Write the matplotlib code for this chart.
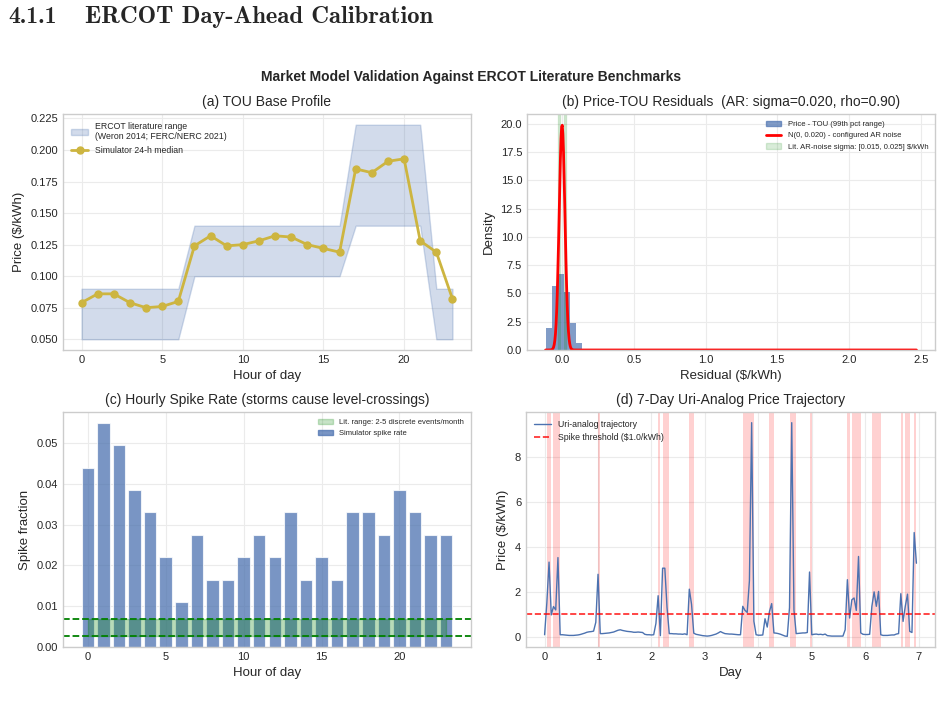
import matplotlib
matplotlib.use("Agg")
import matplotlib.pyplot as plt
import numpy as np
from matplotlib.patches import Patch
from matplotlib.lines import Line2D

# (a) TOU base profile
hours = np.arange(24)
lit_low = [0.05, 0.05, 0.05, 0.05, 0.05, 0.05, 0.05, 0.10, 0.10, 0.10, 0.10, 0.10,
           0.10, 0.10, 0.10, 0.10, 0.10, 0.14, 0.14, 0.14, 0.14, 0.14, 0.05, 0.05]
lit_high = [0.09, 0.09, 0.09, 0.09, 0.09, 0.09, 0.09, 0.14, 0.14, 0.14, 0.14, 0.14,
            0.14, 0.14, 0.14, 0.14, 0.14, 0.22, 0.22, 0.22, 0.22, 0.22, 0.09, 0.09]
sim_median = [0.079, 0.086, 0.086, 0.079, 0.075, 0.076, 0.080, 0.124, 0.132, 0.124, 0.125, 0.128,
              0.132, 0.131, 0.125, 0.122, 0.119, 0.185, 0.182, 0.191, 0.193, 0.128, 0.119, 0.082]

# (b) residual histogram (density per bin)
resid_edges = [-0.110, -0.068, -0.026, 0.016, 0.058, 0.100, 0.142, 0.184]
resid_density = [1.93, 5.63, 6.73, 5.16, 2.40, 0.60, 0.10]
resid_min, resid_max = -0.115, 2.47
ar_sigma = 0.020
lit_sigma = [0.015, 0.025]

# (c) hourly spike fraction
spike_frac = [0.0440, 0.0549, 0.0495, 0.0385, 0.0330, 0.0220, 0.0110, 0.0275, 0.0165, 0.0165, 0.0220, 0.0275,
              0.0220, 0.0330, 0.0165, 0.0220, 0.0165, 0.0330, 0.0330, 0.0275, 0.0385, 0.0330, 0.0275, 0.0275]
lit_spike = [2 / 720, 5 / 720]

# (d) 7-day trajectory, hourly prices ($/kWh)
uri_price = [
    0.10, 1.50, 3.32, 0.98, 1.35, 1.20, 3.52, 0.10, 0.10, 0.09, 0.08, 0.07,
    0.07, 0.07, 0.08, 0.09, 0.11, 0.14, 0.17, 0.21, 0.23, 0.24, 0.26, 0.65,
    2.78, 0.15, 0.15, 0.16, 0.17, 0.18, 0.20, 0.22, 0.26, 0.30, 0.32, 0.29,
    0.27, 0.25, 0.24, 0.23, 0.21, 0.21, 0.22, 0.21, 0.20, 0.12, 0.10, 0.10,
    0.09, 0.10, 0.60, 1.83, 0.06, 3.05, 3.05, 1.30, 0.15, 0.15, 0.14, 0.14,
    0.13, 0.13, 0.12, 0.14, 0.10, 2.12, 1.45, 0.17, 0.12, 0.10, 0.08, 0.06,
    0.05, 0.04, 0.05, 0.07, 0.10, 0.13, 0.18, 0.24, 0.19, 0.15, 0.14, 0.13,
    0.13, 0.12, 0.11, 0.10, 0.10, 1.36, 1.18, 1.09, 2.50, 9.50, 0.70, 0.10,
    0.08, 0.08, 0.09, 0.81, 0.44, 1.13, 1.48, 0.18, 0.17, 0.15, 0.12, 0.08,
    0.04, 0.03, 1.30, 9.50, 1.20, 0.15, 0.16, 0.17, 0.18, 0.18, 0.20, 2.88,
    0.10, 0.12, 0.13, 0.11, 0.12, 0.10, 0.13, 0.06, 0.05, 0.04, 0.04, 0.04,
    0.04, 0.04, 0.04, 0.32, 2.54, 0.84, 1.65, 1.73, 1.18, 3.57, 0.18, 0.12,
    0.11, 0.11, 0.12, 1.36, 2.00, 1.36, 2.02, 0.10, 0.07, 0.07, 0.07, 0.08,
    0.09, 0.09, 0.13, 0.15, 1.92, 0.69, 1.36, 1.90, 0.25, 0.20, 4.63, 3.27,
]
spike_threshold = 1.0

plt.style.use('seaborn-v0_8-whitegrid')
plt.rcParams['font.family'] = ['Liberation Sans', 'DejaVu Sans']
plt.rcParams['xtick.labelsize'] = 8
plt.rcParams['ytick.labelsize'] = 8
plt.rcParams['axes.titlesize'] = 10
plt.rcParams['axes.labelsize'] = 9.5
plt.rcParams['axes.edgecolor'] = '#cccccc'
plt.rcParams['grid.color'] = '#ebebeb'

blue = '#4c72b0'
fig = plt.figure(figsize=(9.42, 7.08), dpi=100)

head_font = ['cmb10', 'DejaVu Serif']
fig.text(0.0085, 1 - 17 / 708, '4.1.1', fontsize=17, family=head_font, va='center')
fig.text(0.090, 1 - 17 / 708, 'ERCOT Day-Ahead Calibration', fontsize=17.8,
         family=head_font, va='center')
fig.text(0.5, 1 - 77 / 708, 'Market Model Validation Against ERCOT Literature Benchmarks',
         ha='center', va='center', fontsize=10, fontweight='bold')

ax_a = fig.add_axes([63 / 942, 358 / 708, 408 / 942, 236 / 708])
ax_b = fig.add_axes([527 / 942, 358 / 708, 408 / 942, 236 / 708])
ax_c = fig.add_axes([63 / 942, 61 / 708, 408 / 942, 235 / 708])
ax_d = fig.add_axes([526 / 942, 61 / 708, 409 / 942, 235 / 708])

# (a)
ax_a.fill_between(hours, lit_low, lit_high, color=blue, alpha=0.25)
ax_a.plot(hours, sim_median, '-o', color='#cdb540', lw=2, markersize=5)
ax_a.set_title('(a) TOU Base Profile')
ax_a.set_xlabel('Hour of day')
ax_a.set_ylabel('Price ($/kWh)')
ax_a.legend(handles=[Patch(color=blue, alpha=0.25,
                           label='ERCOT literature range\n(Weron 2014; FERC/NERC 2021)'),
                     Line2D([], [], color='#cdb540', lw=2, marker='o', markersize=5,
                            label='Simulator 24-h median')],
            loc='upper left', fontsize=6.3, frameon=False)

# (b)
edges = np.array(resid_edges)
ax_b.hist(edges[:-1], bins=edges, weights=resid_density, color=blue, alpha=0.7)
xs = np.linspace(resid_min, resid_max, 600)
ax_b.plot(xs, np.exp(-0.5 * (xs / ar_sigma) ** 2) / (ar_sigma * np.sqrt(2 * np.pi)), color='red', lw=2)
ax_b.axvspan(-lit_sigma[1], -lit_sigma[0], color='green', alpha=0.15)
ax_b.axvspan(lit_sigma[0], lit_sigma[1], color='green', alpha=0.15)
ax_b.set_title('(b) Price-TOU Residuals  (AR: sigma=0.020, rho=0.90)')
ax_b.set_xlabel('Residual ($/kWh)')
ax_b.set_ylabel('Density')
ax_b.legend(handles=[Patch(color=blue, alpha=0.7, label='Price - TOU (99th pct range)'),
                     Line2D([], [], color='red', lw=2, label='N(0, 0.020) - configured AR noise'),
                     Patch(color='green', alpha=0.15,
                           label='Lit. AR-noise sigma: [0.015, 0.025] $/kWh')],
            loc='upper right', fontsize=5.5, frameon=False)

# (c)
ax_c.bar(hours, spike_frac, color=blue, alpha=0.75, edgecolor='white', lw=0.8)
ax_c.fill_between(hours, lit_spike[0], lit_spike[1], color='green', alpha=0.28)
ax_c.axhline(lit_spike[0], color='green', ls='--', lw=1.3)
ax_c.axhline(lit_spike[1], color='green', ls='--', lw=1.3)
ax_c.set_title('(c) Hourly Spike Rate (storms cause level-crossings)')
ax_c.set_xlabel('Hour of day')
ax_c.set_ylabel('Spike fraction')
ax_c.legend(handles=[Patch(color='green', alpha=0.22, label='Lit. range: 2-5 discrete events/month'),
                     Patch(color=blue, alpha=0.75, label='Simulator spike rate')],
            loc='upper right', fontsize=5.5, frameon=False)

# (d)
price = np.array(uri_price)
days = np.arange(len(price)) / 24
for i in range(len(price) - 1):
    if price[i] > spike_threshold:
        ax_d.axvspan(days[i], days[i + 1], color='red', alpha=0.18, lw=0)
ax_d.plot(days, price, color=blue, lw=1, label='Uri-analog trajectory')
ax_d.axhline(spike_threshold, color='red', ls='--', lw=1.2, alpha=0.85, label='Spike threshold ($1.0/kWh)')
ax_d.set_title('(d) 7-Day Uri-Analog Price Trajectory')
ax_d.set_xlabel('Day')
ax_d.set_ylabel('Price ($/kWh)')
ax_d.legend(loc='upper left', fontsize=6.3, frameon=False)

fig.savefig('out.png', dpi=100)
